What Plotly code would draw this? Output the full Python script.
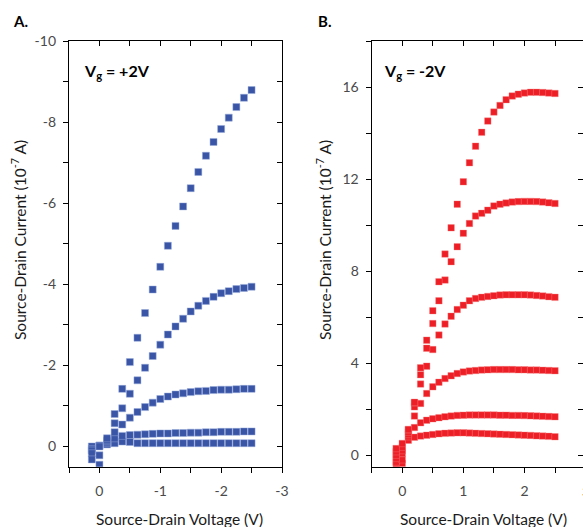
import plotly.graph_objects as go

# ---------------- data ----------------
# Panel A (Vg = +2V)
A_x = [0.125, 0.0, -0.125, -0.25, -0.375, -0.5, -0.625, -0.75, -0.875, -1.0, -1.125,
       -1.25, -1.375, -1.5, -1.625, -1.75, -1.875, -2.0, -2.125, -2.25, -2.375, -2.5]
A_c1 = [0.00, -0.02, -0.05, -0.08, -0.12, -0.11, -0.08, -0.08, -0.08, -0.08, -0.08,
        -0.08, -0.08, -0.08, -0.08, -0.08, -0.08, -0.08, -0.08, -0.08, -0.08, -0.08]
A_c2 = [0.06, 0.22, -0.08, -0.20, -0.26, -0.28, -0.29, -0.30, -0.31, -0.32, -0.32,
        -0.33, -0.33, -0.34, -0.34, -0.35, -0.35, -0.36, -0.36, -0.36, -0.37, -0.37]
A_c3 = [0.10, -0.02, -0.12, -0.35, -0.54, -0.71, -0.85, -0.97, -1.08, -1.17, -1.23,
        -1.28, -1.31, -1.34, -1.36, -1.37, -1.39, -1.40, -1.40, -1.41, -1.42, -1.42]
A_c4 = [0.17, 0.00, -0.15, -0.57, -0.94, -1.30, -1.63, -1.94, -2.23, -2.51, -2.76,
        -2.96, -3.15, -3.33, -3.47, -3.59, -3.69, -3.78, -3.83, -3.88, -3.91, -3.94]
A_c5 = [0.32, 0.45, -0.20, -0.80, -1.42, -2.08, -2.68, -3.29, -3.87, -4.43, -4.95,
        -5.44, -5.92, -6.37, -6.77, -7.17, -7.51, -7.83, -8.11, -8.37, -8.60, -8.79]

# Panel B (Vg = -2V)
B_x = [-0.1, 0.0, 0.1, 0.2, 0.3, 0.4, 0.5, 0.6, 0.7, 0.8, 0.9, 1.0, 1.1, 1.2, 1.3,
       1.4, 1.5, 1.6, 1.7, 1.8, 1.9, 2.0, 2.1, 2.2, 2.3, 2.4, 2.5]
B_c1 = [-0.43, -0.36, 0.65, 0.78, 0.83, 0.87, 0.90, 0.93, 0.95, 0.96, 0.97, 0.97, 0.96,
        0.95, 0.94, 0.93, 0.92, 0.91, 0.90, 0.89, 0.88, 0.87, 0.86, 0.84, 0.83, 0.82, 0.80]
B_c2 = [-0.30, -0.20, 0.80, 1.20, 1.41, 1.52, 1.58, 1.63, 1.67, 1.70, 1.73, 1.74, 1.75,
        1.75, 1.75, 1.75, 1.75, 1.74, 1.74, 1.73, 1.73, 1.72, 1.71, 1.70, 1.69, 1.68, 1.67]
B_c3 = [-0.14, 0.07, 0.90, 1.70, 2.25, 2.68, 2.97, 3.17, 3.33, 3.45, 3.55, 3.62, 3.66,
        3.68, 3.70, 3.71, 3.72, 3.72, 3.72, 3.72, 3.71, 3.71, 3.70, 3.70, 3.69, 3.68, 3.67]
B_c4 = [0.00, 0.20, 1.00, 2.10, 3.09, 3.87, 4.59, 5.22, 5.70, 6.04, 6.33, 6.52, 6.71,
        6.81, 6.86, 6.90, 6.93, 6.96, 6.97, 6.97, 6.97, 6.97, 6.96, 6.94, 6.92, 6.89, 6.86]
B_c5 = [0.15, 0.35, 1.10, 2.27, 3.50, 4.65, 5.72, 6.71, 7.61, 8.41, 9.06, 9.64, 10.07,
        10.39, 10.51, 10.65, 10.83, 10.91, 10.96, 11.00, 11.02, 11.03, 11.03, 11.02, 11.00, 10.97, 10.94]
B_c6 = [0.29, 0.51, 1.12, 2.30, 3.80, 5.00, 6.28, 7.54, 8.74, 9.88, 10.91, 11.88, 12.71,
        13.43, 14.03, 14.52, 14.91, 15.20, 15.45, 15.61, 15.69, 15.74, 15.77, 15.77, 15.76, 15.74, 15.72]

# tick values / labels
A_xticks = [0, -1, -2, -3]
A_xlabels = ["0", "-1", "-2", "-3"]
A_xminor = [0.5, -0.5, -1.5, -2.5]
A_yticks = [0, -2, -4, -6, -8, -10]
A_ylabels = ["0", "-2", "-4", "-6", "-8", "-10"]
A_yminor = [-1, -3, -5, -7, -9]
B_xticks = [0, 1, 2, 3]
B_xlabels = ["0", "1", "2", "3"]
B_xminor = [-0.5, 0.5, 1.5, 2.5]
B_yticks = [0, 4, 8, 12, 16]
B_ylabels = ["0", "4", "8", "12", "16"]
B_yminor = [2, 6, 10, 14, 18]

# ---------------- figure ----------------
BLUE = "#3a54a6"
RED = "#ed1f26"
FONT = "Lato"
TICKFONT = dict(family=FONT, size=14, color="#4a4a4a")

fig = go.Figure()

for ys in [A_c1, A_c2, A_c3, A_c4, A_c5]:
    fig.add_trace(go.Scatter(
        x=A_x, y=ys, mode="markers", xaxis="x", yaxis="y",
        marker=dict(symbol="square", size=7, color=BLUE,
                    line=dict(width=0.6, color="rgba(150,170,220,0.8)")),
        showlegend=False, hoverinfo="x+y"))

for ys in [B_c1, B_c2, B_c3, B_c4, B_c5, B_c6]:
    fig.add_trace(go.Scatter(
        x=B_x, y=ys, mode="markers", xaxis="x2", yaxis="y2",
        marker=dict(symbol="square", size=6.5, color=RED,
                    line=dict(width=0.5, color="rgba(245,130,130,0.7)")),
        showlegend=False, hoverinfo="x+y"))

# dummy traces so the mirror (overlay) axes are drawn
for xa, ya in [("x3", "y3"), ("x4", "y4")]:
    fig.add_trace(go.Scatter(x=[None], y=[None], xaxis=xa, yaxis=ya,
                             mode="markers", showlegend=False, hoverinfo="skip"))

W, H = 583, 527


def py(ypix):
    """reference pixel row -> paper fraction"""
    return 1 - ypix / H


A_left, A_right = 69, 282
B_left = 371.7
B_pxunit = 61.1
top, bottom = 41, 466.7
ydom = [py(bottom), py(top)]

A_xrange = [0.5, -3]
A_yrange = [0.5, -10]
B_xrange = [-0.5, -0.5 + (W - B_left) / B_pxunit]
B_yrange = [-0.5, 18]

common = dict(showgrid=False, zeroline=False, linecolor="black", linewidth=1.3,
              tickcolor="black", tickwidth=1, ticklen=5, tickmode="array",
              tickfont=TICKFONT, automargin=False)


def minor(vals, direction):
    return dict(tickmode="array", tickvals=vals, ticks=direction, ticklen=5,
                tickwidth=1, tickcolor="black", showgrid=False)


fig.update_layout(
    width=W, height=H,
    margin=dict(l=0, r=0, t=0, b=0, pad=0, autoexpand=False),
    paper_bgcolor="white", plot_bgcolor="white",
    font=dict(family=FONT, color="black"),
    xaxis=dict(domain=[A_left / W, A_right / W], anchor="y", range=A_xrange,
               showline=True, ticks="outside", tickvals=A_xticks, ticktext=A_xlabels,
               minor=minor(A_xminor, "outside"), ticklabelstandoff=6, **common),
    yaxis=dict(domain=ydom, anchor="x", range=A_yrange, showline=True,
               ticks="outside", tickvals=A_yticks, ticktext=A_ylabels,
               minor=minor(A_yminor, "outside"), ticklabelstandoff=4, **common),
    xaxis3=dict(overlaying="x", anchor="y3", side="top", range=A_xrange,
                showline=True, ticks="inside", tickvals=A_xticks,
                minor=minor(A_xminor, "inside"), showticklabels=False, **common),
    yaxis3=dict(overlaying="y", anchor="x3", side="right", range=A_yrange,
                showline=True, ticks="inside", tickvals=A_yticks,
                minor=minor(A_yminor, "inside"), showticklabels=False, **common),
    xaxis2=dict(domain=[B_left / W, 1.0], anchor="y2", range=B_xrange,
                showline=True, ticks="outside", tickvals=B_xticks, ticktext=B_xlabels,
                minor=minor(B_xminor, "outside"), ticklabelstandoff=6, **common),
    yaxis2=dict(domain=ydom, anchor="x2", range=B_yrange, showline=True,
                ticks="outside", tickvals=B_yticks, ticktext=B_ylabels,
                minor=minor(B_yminor, "outside"), ticklabelstandoff=4, **common),
    xaxis4=dict(overlaying="x2", anchor="y4", side="top", range=B_xrange,
                showline=True, ticks="inside", tickvals=B_xticks,
                minor=minor(B_xminor, "inside"), showticklabels=False, **common),
    yaxis4=dict(overlaying="y2", anchor="x4", side="right", range=B_yrange,
                showline=False, ticks="inside", tickvals=B_yticks,
                minor=minor(B_yminor, "inside"), showticklabels=False, **common),
)

title_font = dict(family=FONT, size=15.5, color="#1a1a1a")
# the "3" tick label of panel B sits at the cropped right edge of the figure
x3_px = B_left + (B_xticks[-1] - B_xrange[0]) * B_pxunit
ann = [
    dict(text="<b>A.</b>", x=20.5 / W, y=py(21.5), font=dict(family=FONT, size=15, color="black")),
    dict(text="<b>B.</b>", x=324.5 / W, y=py(21.5), font=dict(family=FONT, size=15, color="black")),
    dict(text="<b>V<sub>g</sub> = +2V</b>", x=81.7 / W, y=py(72), xanchor="left",
         font=dict(family=FONT, size=16, color="black")),
    dict(text="<b>V<sub>g</sub> = -2V</b>", x=381.7 / W, y=py(72), xanchor="left",
         font=dict(family=FONT, size=16, color="black")),
    dict(text="Source-Drain Voltage (V)", x=179 / W, y=py(519), font=title_font),
    dict(text="Source-Drain Voltage (V)", x=483 / W, y=py(519), font=title_font),
    dict(text="Source-Drain Current (10<sup>-7</sup> A)", x=19 / W, y=py(240),
         textangle=-90, font=title_font),
    dict(text="Source-Drain Current (10<sup>-7</sup> A)", x=324 / W, y=py(240),
         textangle=-90, font=title_font),
    dict(text=B_xlabels[-1], x=x3_px / W, y=py(491.5), font=TICKFONT),
]
for a in ann:
    a.setdefault("xanchor", "center")
    a.setdefault("yanchor", "middle")
    fig.add_annotation(xref="paper", yref="paper", showarrow=False, **a)

fig.write_html(
    "out.html",
    config={"displayModeBar": False},
    post_script="document.body.style.margin='0px';document.body.style.overflow='hidden';",
)
